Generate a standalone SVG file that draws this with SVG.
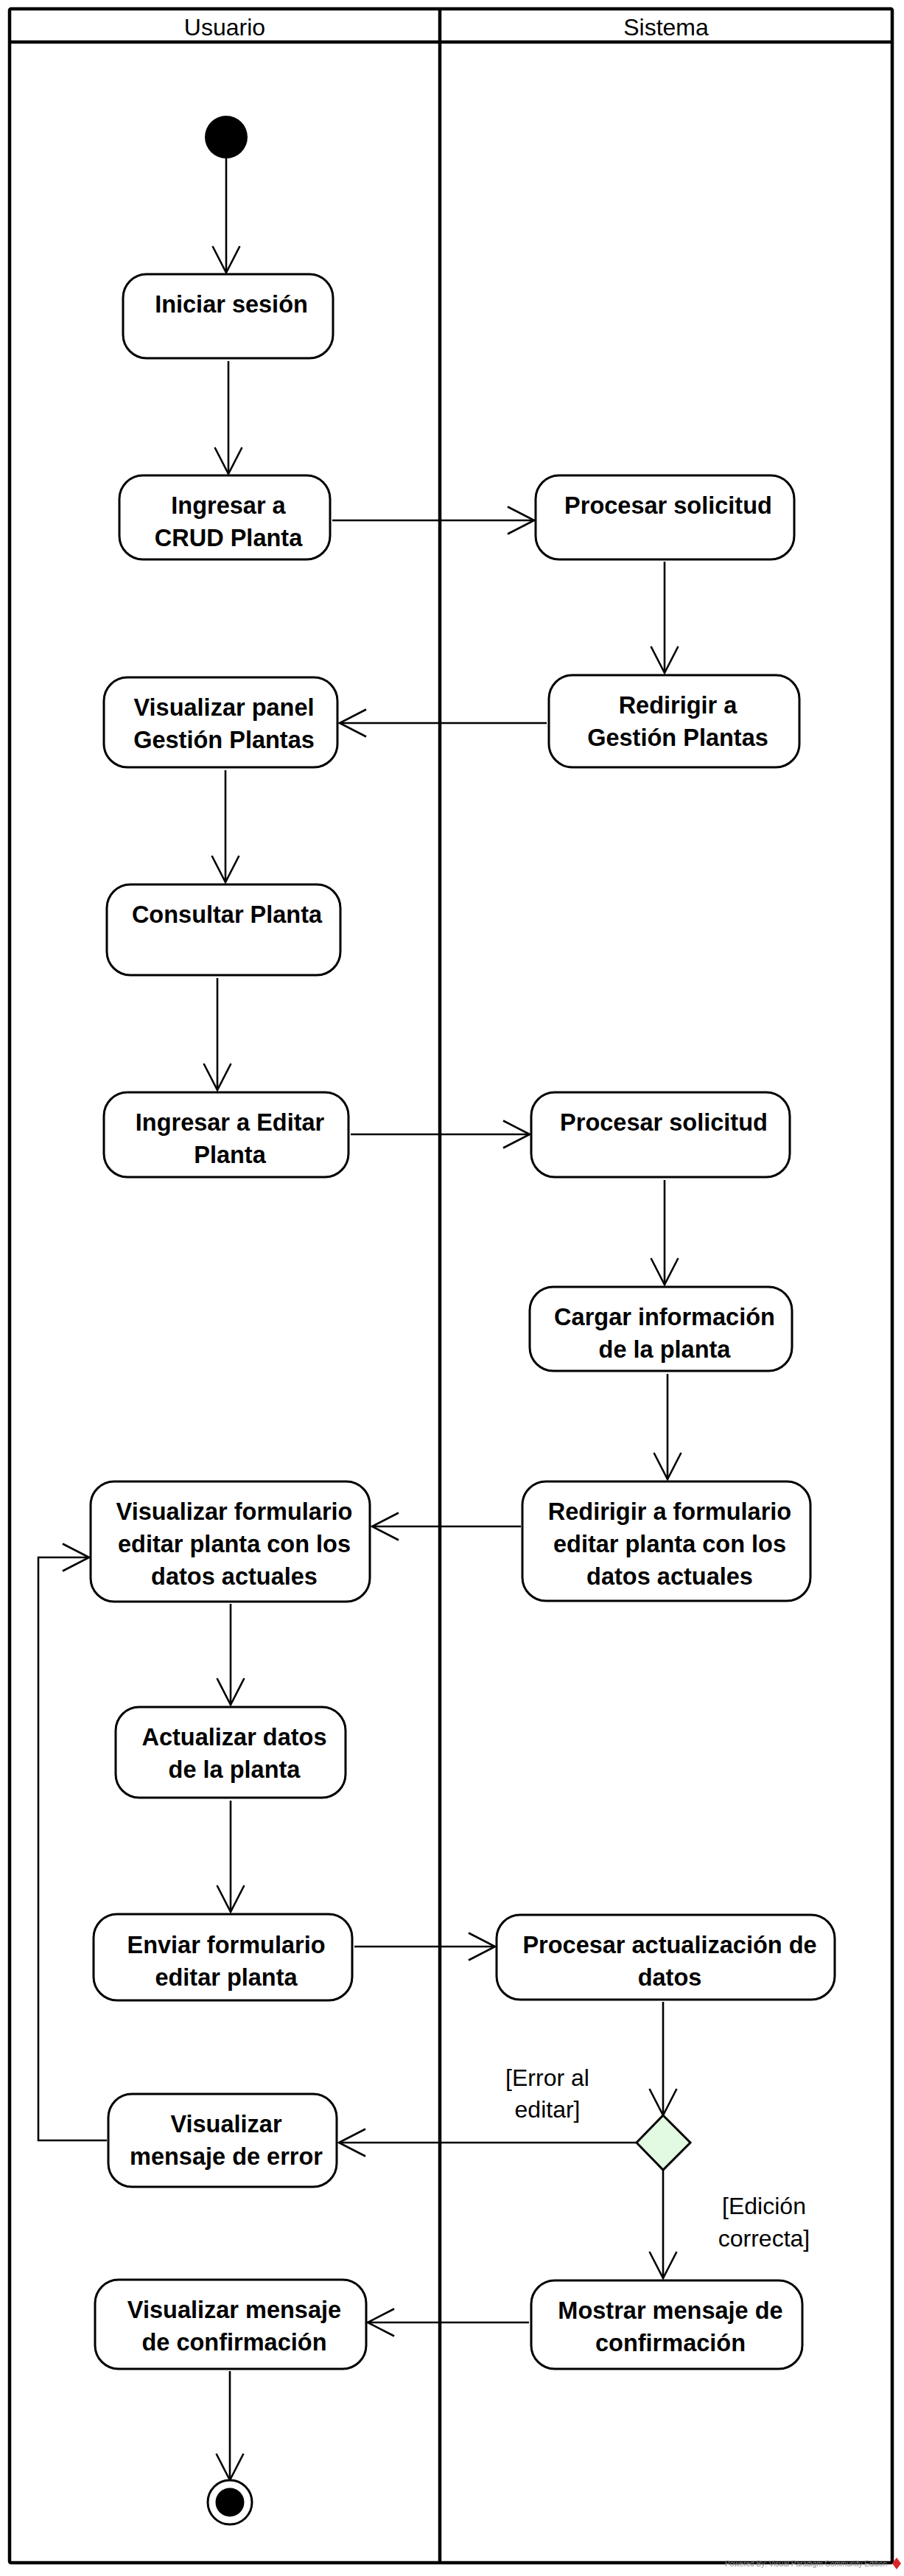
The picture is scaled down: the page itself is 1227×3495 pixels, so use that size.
<svg xmlns="http://www.w3.org/2000/svg" width="1227" height="3495" viewBox="0 0 1227 3495">
<style>
.frame{fill:none;stroke:#000;stroke-width:4.5}
.act{fill:#fff;stroke:#000;stroke-width:3}
.lbl{font-family:"Liberation Sans",Arial,sans-serif;font-size:32.5px;font-weight:bold;text-anchor:middle;fill:#000}
.hdr{font-family:"Liberation Sans",Arial,sans-serif;font-size:32px;text-anchor:middle;fill:#000}
.grd{font-family:"Liberation Sans",Arial,sans-serif;font-size:32px;text-anchor:middle;fill:#000}
.cn{fill:none;stroke:#000;stroke-width:2.6;marker-end:url(#arr)}
.wm{font-family:"Liberation Sans",Arial,sans-serif;font-size:10px;fill:#8a8a8a}
</style>
<defs>
<marker id="arr" markerUnits="userSpaceOnUse" viewBox="-40 -22 44 44" refX="0" refY="0" markerWidth="44" markerHeight="44" orient="auto">
<path d="M-36,-18.5 L0,0 L-36,18.5" fill="none" stroke="#000" stroke-width="2.6"/>
</marker>
</defs>
<rect width="1227" height="3495" fill="#fff"/>
<g id="swimlanes">
<rect class="frame" x="13" y="12" width="1198" height="3465" rx="2"/>
<line class="frame" x1="13" y1="57" x2="1211" y2="57"/>
<line class="frame" x1="597" y1="12" x2="597" y2="3477"/>
<text class="hdr" x="305" y="48">Usuario</text>
<text class="hdr" x="904" y="48">Sistema</text>
</g>
<g id="connectors">
<line class="cn" x1="307" y1="215" x2="307" y2="370"/>
<line class="cn" x1="310" y1="490" x2="310" y2="643"/>
<line class="cn" x1="451" y1="706" x2="725" y2="706"/>
<line class="cn" x1="902" y1="762" x2="902" y2="913"/>
<line class="cn" x1="742" y1="981" x2="461" y2="981"/>
<line class="cn" x1="306" y1="1045" x2="306" y2="1197"/>
<line class="cn" x1="295" y1="1327" x2="295" y2="1479"/>
<line class="cn" x1="476" y1="1539" x2="719" y2="1539"/>
<line class="cn" x1="902" y1="1601" x2="902" y2="1743"/>
<line class="cn" x1="906" y1="1864" x2="906" y2="2007"/>
<line class="cn" x1="707" y1="2071" x2="505" y2="2071"/>
<line class="cn" x1="313" y1="2176" x2="313" y2="2313"/>
<line class="cn" x1="313" y1="2443" x2="313" y2="2594"/>
<line class="cn" x1="481" y1="2641" x2="672" y2="2641"/>
<line class="cn" x1="900" y1="2716" x2="900" y2="2870"/>
<line class="cn" x1="864" y1="2907" x2="460" y2="2907"/>
<polyline class="cn" points="145,2904 52,2904 52,2113 121,2113"/>
<line class="cn" x1="900" y1="2944" x2="900" y2="3091"/>
<line class="cn" x1="718" y1="3151" x2="499" y2="3151"/>
<line class="cn" x1="312" y1="3217" x2="312" y2="3365"/>
<text class="grd" x="743" y="2830">[Error al</text>
<text class="grd" x="743" y="2873">editar]</text>
<text class="grd" x="1037" y="3004">[Edición</text>
<text class="grd" x="1037" y="3048">correcta]</text>
</g>
<g id="start"><circle cx="307" cy="186" r="29" fill="#000"/></g>
<g id="n_iniciar"><rect class="act" x="167" y="372" width="285" height="114" rx="32"/><text class="lbl" x="314" y="424">Iniciar sesión</text></g>
<g id="n_crud"><rect class="act" x="162" y="645" width="286" height="114" rx="32"/><text class="lbl" x="310" y="697">Ingresar a</text><text class="lbl" x="310" y="741">CRUD Planta</text></g>
<g id="n_procesar1"><rect class="act" x="727" y="645" width="351" height="114" rx="32"/><text class="lbl" x="907" y="697">Procesar solicitud</text></g>
<g id="n_redirigir1"><rect class="act" x="745" y="916" width="340" height="125" rx="32"/><text class="lbl" x="920" y="968">Redirigir a</text><text class="lbl" x="920" y="1012">Gestión Plantas</text></g>
<g id="n_panel"><rect class="act" x="141" y="919" width="317" height="122" rx="32"/><text class="lbl" x="304" y="971">Visualizar panel</text><text class="lbl" x="304" y="1015">Gestión Plantas</text></g>
<g id="n_consultar"><rect class="act" x="145" y="1200" width="317" height="123" rx="32"/><text class="lbl" x="308" y="1252">Consultar Planta</text></g>
<g id="n_editar"><rect class="act" x="141" y="1482" width="332" height="115" rx="32"/><text class="lbl" x="312" y="1534">Ingresar a Editar</text><text class="lbl" x="312" y="1578">Planta</text></g>
<g id="n_procesar2"><rect class="act" x="721" y="1482" width="351" height="115" rx="32"/><text class="lbl" x="901" y="1534">Procesar solicitud</text></g>
<g id="n_cargar"><rect class="act" x="719" y="1746" width="356" height="114" rx="32"/><text class="lbl" x="902" y="1798">Cargar información</text><text class="lbl" x="902" y="1842">de la planta</text></g>
<g id="n_redirigir2"><rect class="act" x="709" y="2010" width="391" height="162" rx="32"/><text class="lbl" x="909" y="2062">Redirigir a formulario</text><text class="lbl" x="909" y="2106">editar planta con los</text><text class="lbl" x="909" y="2150">datos actuales</text></g>
<g id="n_visform"><rect class="act" x="123" y="2010" width="379" height="163" rx="32"/><text class="lbl" x="318" y="2062">Visualizar formulario</text><text class="lbl" x="318" y="2106">editar planta con los</text><text class="lbl" x="318" y="2150">datos actuales</text></g>
<g id="n_actualizar"><rect class="act" x="157" y="2316" width="312" height="123" rx="32"/><text class="lbl" x="318" y="2368">Actualizar datos</text><text class="lbl" x="318" y="2412">de la planta</text></g>
<g id="n_enviar"><rect class="act" x="127" y="2597" width="351" height="117" rx="32"/><text class="lbl" x="307" y="2650">Enviar formulario</text><text class="lbl" x="307" y="2694">editar planta</text></g>
<g id="n_procact"><rect class="act" x="674" y="2598" width="459" height="115" rx="32"/><text class="lbl" x="909" y="2650">Procesar actualización de</text><text class="lbl" x="909" y="2694">datos</text></g>
<g id="n_decision"><polygon points="900,2870 937,2907 900,2944 864,2907" fill="#e2f9e2" stroke="#000" stroke-width="3"/></g>
<g id="n_error"><rect class="act" x="147" y="2841" width="310" height="126" rx="32"/><text class="lbl" x="307" y="2893">Visualizar</text><text class="lbl" x="307" y="2937">mensaje de error</text></g>
<g id="n_visconf"><rect class="act" x="129" y="3093" width="368" height="121" rx="32"/><text class="lbl" x="318" y="3145">Visualizar mensaje</text><text class="lbl" x="318" y="3189">de confirmación</text></g>
<g id="n_mostrar"><rect class="act" x="721" y="3094" width="368" height="120" rx="32"/><text class="lbl" x="910" y="3146">Mostrar mensaje de</text><text class="lbl" x="910" y="3190">confirmación</text></g>
<g id="end"><circle cx="312" cy="3395" r="30" fill="#fff" stroke="#000" stroke-width="3"/><circle cx="312" cy="3395" r="19.5" fill="#000"/></g>
<g id="watermark">
<text class="wm" x="984" y="3482" textLength="220" lengthAdjust="spacingAndGlyphs">Powered By:  Visual Paradigm Community Edition</text>
<polygon points="1217,3470 1223,3478 1217,3486 1211,3478" fill="#d9262c"/>
</g>
</svg>
